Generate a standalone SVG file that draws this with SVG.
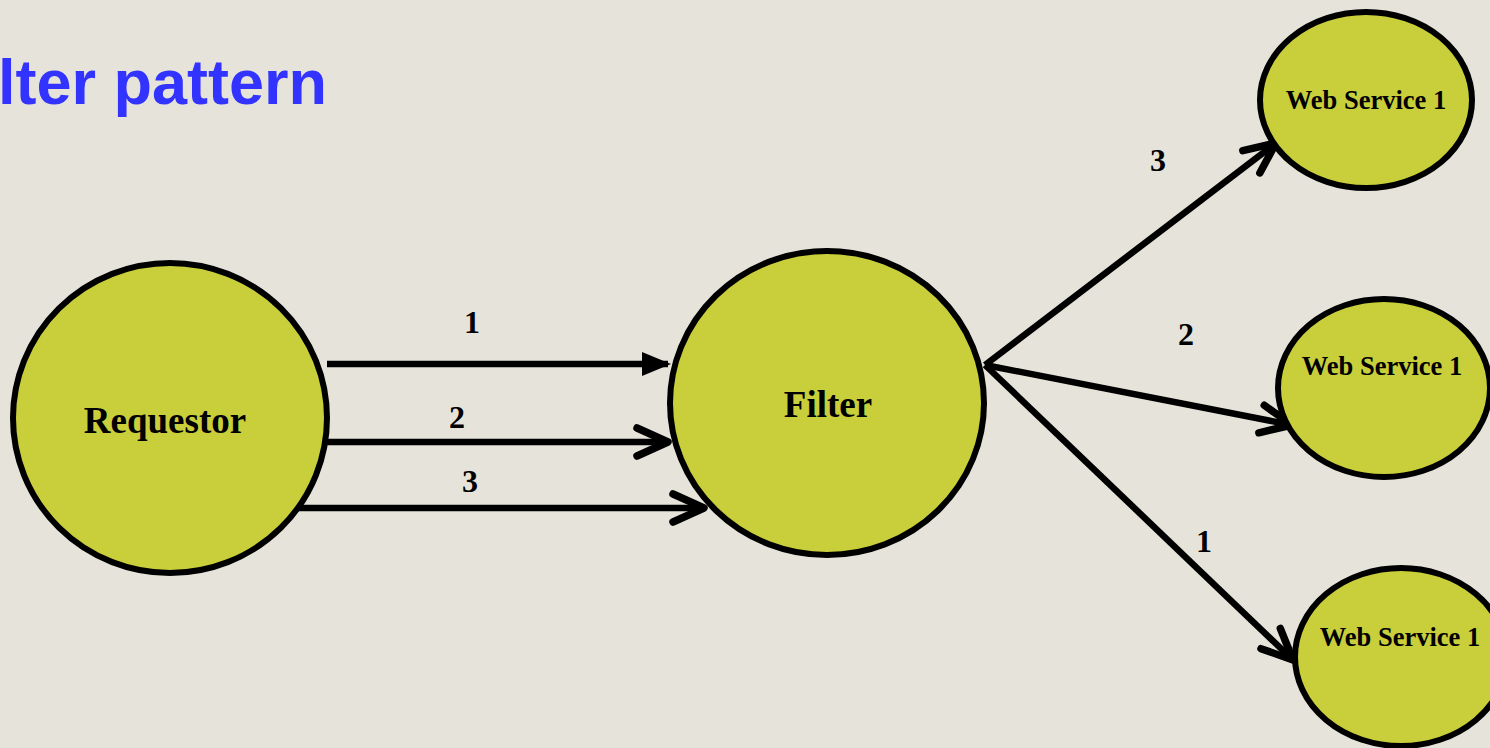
<svg xmlns="http://www.w3.org/2000/svg" width="1490" height="748" viewBox="0 0 1490 748">
<defs>
<style>
.node{fill:#C8CF3A;stroke:#000;stroke-width:6}
.lbl{font-family:"Liberation Serif","Times New Roman",serif;font-weight:bold;fill:#000;text-anchor:middle}
.big{font-size:37px}
.ws{font-size:26.5px}
.num{font-size:32px}
.conn{stroke:#000;stroke-width:6.5;fill:none}
</style>
<marker id="tri" markerUnits="userSpaceOnUse" markerWidth="40" markerHeight="40" viewBox="-30 -20 40 40" refX="0" refY="0" orient="auto" overflow="visible">
<path d="M-26,-12 L3,0 L-26,12 Z" fill="#000"/>
</marker>
<marker id="vee" markerUnits="userSpaceOnUse" markerWidth="50" markerHeight="50" viewBox="-40 -25 50 50" refX="0" refY="0" orient="auto" overflow="visible">
<path d="M-31,-14 L0,0 L-31,14" fill="none" stroke="#000" stroke-width="7.5" stroke-linecap="round" stroke-linejoin="round"/>
</marker>
</defs>
<rect width="1490" height="748" fill="#E6E4DA"/>
<text x="327" y="104" font-family="'Liberation Sans',Arial,sans-serif" font-weight="bold" font-size="63" fill="#3333FF" text-anchor="end">lter pattern</text>
<g id="connectors">
<line class="conn" x1="327" y1="364" x2="668" y2="364" marker-end="url(#tri)"/>
<line class="conn" x1="327" y1="442" x2="668" y2="442" marker-end="url(#vee)"/>
<line class="conn" x1="292" y1="508" x2="704" y2="508" marker-end="url(#vee)"/>
<line class="conn" x1="985" y1="365" x2="1276" y2="143" marker-end="url(#vee)"/>
<line class="conn" x1="985" y1="365" x2="1292" y2="425" marker-end="url(#vee)"/>
<line class="conn" x1="985" y1="365" x2="1293" y2="660" marker-end="url(#vee)"/>
<text class="lbl num" x="472" y="333">1</text>
<text class="lbl num" x="457" y="428">2</text>
<text class="lbl num" x="470" y="492">3</text>
<text class="lbl num" x="1158" y="171">3</text>
<text class="lbl num" x="1186" y="345">2</text>
<text class="lbl num" x="1204" y="552">1</text>
</g>
<g id="requestor">
<ellipse class="node" cx="170" cy="418" rx="157" ry="155"/>
<text class="lbl big" x="165" y="433">Requestor</text>
</g>
<g id="filter">
<ellipse class="node" cx="827" cy="403" rx="157" ry="152"/>
<text class="lbl big" x="828" y="417">Filter</text>
</g>
<g id="ws1">
<ellipse class="node" cx="1366" cy="100" rx="106" ry="88"/>
<text class="lbl ws" x="1366" y="109">Web Service 1</text>
</g>
<g id="ws2">
<ellipse class="node" cx="1384" cy="388" rx="106" ry="89"/>
<text class="lbl ws" x="1382" y="375">Web Service 1</text>
</g>
<g id="ws3">
<ellipse class="node" cx="1401" cy="657" rx="106" ry="89"/>
<text class="lbl ws" x="1400" y="646">Web Service 1</text>
</g>
</svg>
